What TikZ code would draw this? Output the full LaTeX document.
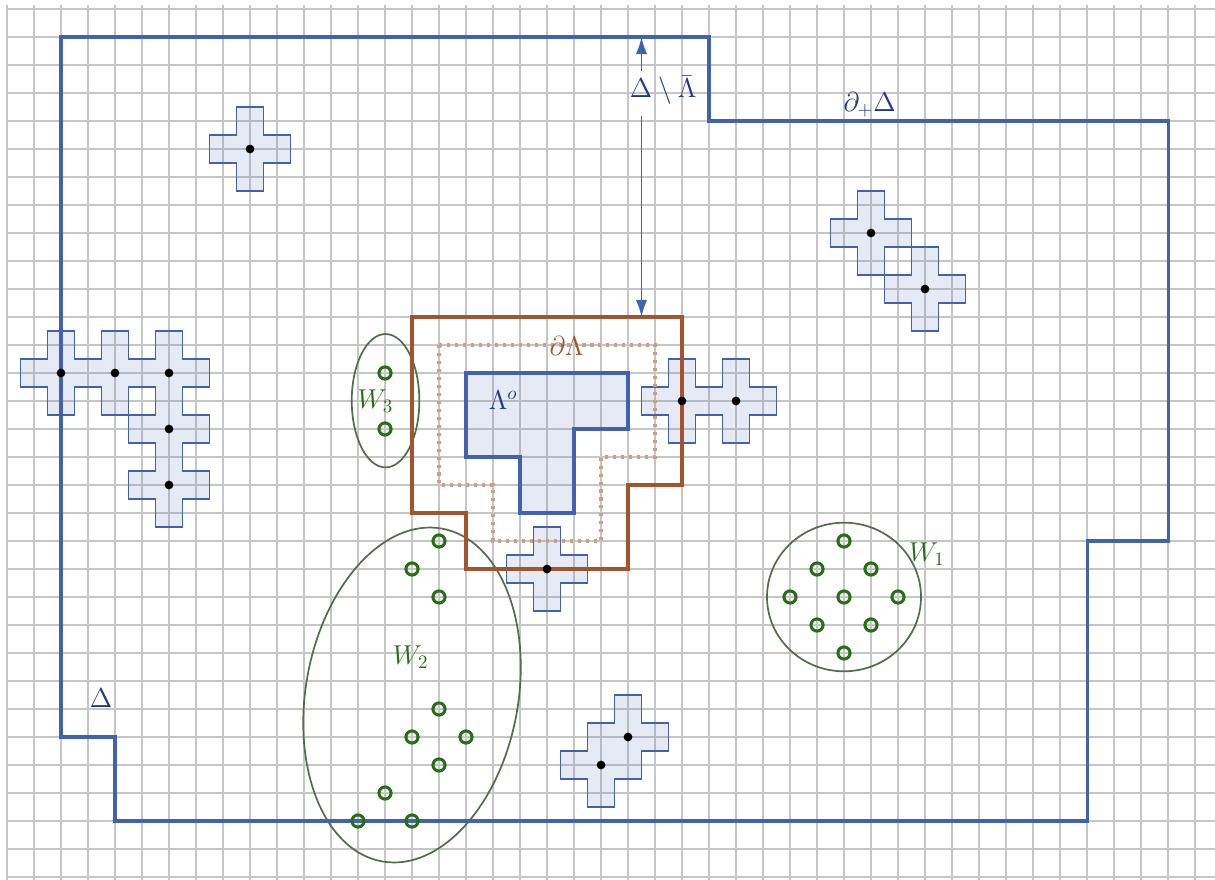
\documentclass[tikz,border=0pt]{standalone}
\usetikzlibrary{arrows.meta}
\definecolor{lblue}{RGB}{66,98,176}
\definecolor{tblue}{RGB}{30,55,145}
\definecolor{lbrown}{RGB}{163,84,45}
\definecolor{dotbrown}{RGB}{200,160,140}
\definecolor{wgreen}{RGB}{40,110,25}
\definecolor{egreen}{RGB}{80,110,75}
\definecolor{gridc}{RGB}{198,198,198}
\tikzset{
  gridline/.style={draw=gridc,line width=0.6pt},
  crossfill/.style={fill=lblue,fill opacity=0.13,draw=lblue,draw opacity=1,line width=0.9pt,line join=miter},
  bnd/.style={draw=lblue,line width=1.6pt,line join=miter},
  brbnd/.style={draw=lbrown,line width=1.6pt,line join=miter},
  dotbnd/.style={draw=dotbrown,line width=1.6pt,dash pattern=on 1.6pt off 2.6pt},
  wring/.style={draw=wgreen,line width=1.6pt},
  wellipse/.style={draw=egreen,line width=0.9pt},
  ctrdot/.style={fill=black},
  arr/.style={draw=lblue,line width=1pt,-{Latex[length=9pt,width=6pt]}},
  lbl/.style={font=\fontsize{14.5}{17}\selectfont,inner sep=1pt},
  plus/.pic={\path[crossfill] (-0.5,1.5) -- (0.5,1.5) -- (0.5,0.5) -- (1.5,0.5) -- (1.5,-0.5) -- (0.5,-0.5) -- (0.5,-1.5) -- (-0.5,-1.5) -- (-0.5,-0.5) -- (-1.5,-0.5) -- (-1.5,0.5) -- (-0.5,0.5) -- cycle;}
}
\begin{document}
\begin{tikzpicture}[x=0.5cm,y=0.518519cm]
\useasboundingbox (-0.2593,-0.0714) rectangle (44.7407,31.3214);
\fill[white] (-0.2593,-0.0714) rectangle (44.7407,31.3214);
% grid
\foreach \i in {0,...,44} \draw[gridline] (\i,-0.1) -- (\i,31.14);
\foreach \j in {0,...,31} \draw[gridline] (0,\j) -- (44.8,\j);
% single crosses
\pic at (9,26) {plus};
\pic at (32,23) {plus};
\pic at (34,21) {plus};
\pic at (20,11) {plus};
% left cluster
\path[crossfill,even odd rule] (1.5,19.5) -- (2.5,19.5) -- (2.5,18.5) -- (3.5,18.5) -- (3.5,19.5) -- (4.5,19.5) -- (4.5,18.5) -- (5.5,18.5) -- (5.5,19.5) -- (6.5,19.5) -- (6.5,18.5) -- (7.5,18.5) -- (7.5,17.5) -- (6.5,17.5) -- (6.5,16.5) -- (7.5,16.5) -- (7.5,15.5) -- (6.5,15.5) -- (6.5,14.5) -- (7.5,14.5) -- (7.5,13.5) -- (6.5,13.5) -- (6.5,12.5) -- (5.5,12.5) -- (5.5,13.5) -- (4.5,13.5) -- (4.5,14.5) -- (5.5,14.5) -- (5.5,15.5) -- (4.5,15.5) -- (4.5,16.5) -- (3.5,16.5) -- (3.5,17.5) -- (2.5,17.5) -- (2.5,16.5) -- (1.5,16.5) -- (1.5,17.5) -- (0.5,17.5) -- (0.5,18.5) -- (1.5,18.5) -- cycle
  (4.5,16.5) -- (5.5,16.5) -- (5.5,17.5) -- (4.5,17.5) -- cycle;
% right pair
\path[crossfill] (24.5,18.5) -- (25.5,18.5) -- (25.5,17.5) -- (26.5,17.5) -- (26.5,18.5) -- (27.5,18.5) -- (27.5,17.5) -- (28.5,17.5) -- (28.5,16.5) -- (27.5,16.5) -- (27.5,15.5) -- (26.5,15.5) -- (26.5,16.5) -- (25.5,16.5) -- (25.5,15.5) -- (24.5,15.5) -- (24.5,16.5) -- (23.5,16.5) -- (23.5,17.5) -- (24.5,17.5) -- cycle;
% bottom pair
\path[crossfill] (22.5,6.5) -- (23.5,6.5) -- (23.5,5.5) -- (24.5,5.5) -- (24.5,4.5) -- (23.5,4.5) -- (23.5,3.5) -- (22.5,3.5) -- (22.5,2.5) -- (21.5,2.5) -- (21.5,3.5) -- (20.5,3.5) -- (20.5,4.5) -- (21.5,4.5) -- (21.5,5.5) -- (22.5,5.5) -- cycle;
% Lambda^o
\path[fill=lblue,fill opacity=0.13,draw=lblue,draw opacity=1,line width=1.6pt,line join=miter] (17,18) -- (23,18) -- (23,16) -- (21,16) -- (21,13) -- (19,13) -- (19,15) -- (17,15) -- cycle;
% dotted boundary
\draw[dotbnd] (16,19) -- (24,19) -- (24,15) -- (22,15) -- (22,12) -- (18,12) -- (18,14) -- (16,14) -- cycle;
% ellipses
\draw[wellipse] (14.02,17.01) ellipse [x radius=0.626cm, y radius=1.235cm];
\draw[wellipse] (31,10) ellipse [x radius=1.426cm, y radius=1.376cm];
\draw[wellipse,rotate around={79.8:(15,6.5)}] (15,6.5) ellipse [x radius=3.131cm, y radius=1.967cm];
% boundary of Lambda
\draw[brbnd] (15,20) -- (25,20) -- (25,14) -- (23,14) -- (23,11) -- (17,11) -- (17,13) -- (15,13) -- cycle;
% boundary of Delta
\draw[bnd] (2,30) -- (26,30) -- (26,27) -- (43,27) -- (43,12) -- (40,12) -- (40,2) -- (4,2) -- (4,5) -- (2,5) -- cycle;
% W points
\foreach \p in {(14,18),(14,16),
  (31,10),(31,12),(31,8),(30,11),(32,11),(30,9),(32,9),(29,10),(33,10),
  (16,12),(15,11),(16,10),(16,6),(15,5),(17,5),(16,4),(14,3),(13,2),(15,2)}
  \draw[wring] \p circle [radius=3.2pt];
% centre dots
\foreach \p in {(2,18),(4,18),(6,18),(6,16),(6,14),(9,26),(32,23),(34,21),(25,17),(27,17),(20,11),(23,5),(22,4)}
  \fill[ctrdot] \p circle [radius=2.3pt];
% labels
\node[lbl,text=tblue] (delta) at (3.48,6.39) {$\Delta$};
\node[lbl,text=tblue] (dplus) at (31.95,27.57) {$\partial_+\Delta$};
\node[lbl,text=tblue] (diff) at (24.3,28.1) {$\Delta\setminus\bar\Lambda$};
\node[lbl,text=tblue] (lamo) at (18.38,17.04) {$\Lambda^o$};
\node[lbl,text=lbrown] (dlam) at (20.73,18.96) {$\partial\Lambda$};
\node[lbl,text=wgreen] (w1) at (34.07,11.54) {$W_1$};
\node[lbl,text=wgreen] (w2) at (14.95,7.85) {$W_2$};
\node[lbl,text=wgreen] (w3) at (13.65,17.0) {$W_3$};
% arrows
\coordinate (aup) at (23.5,28.79);
\coordinate (atop) at (23.5,30);
\coordinate (adn) at (23.5,27.18);
\coordinate (abot) at (23.5,20);
\draw[arr] (aup) -- (atop);
\draw[arr] (adn) -- (abot);
\end{tikzpicture}
\end{document}
